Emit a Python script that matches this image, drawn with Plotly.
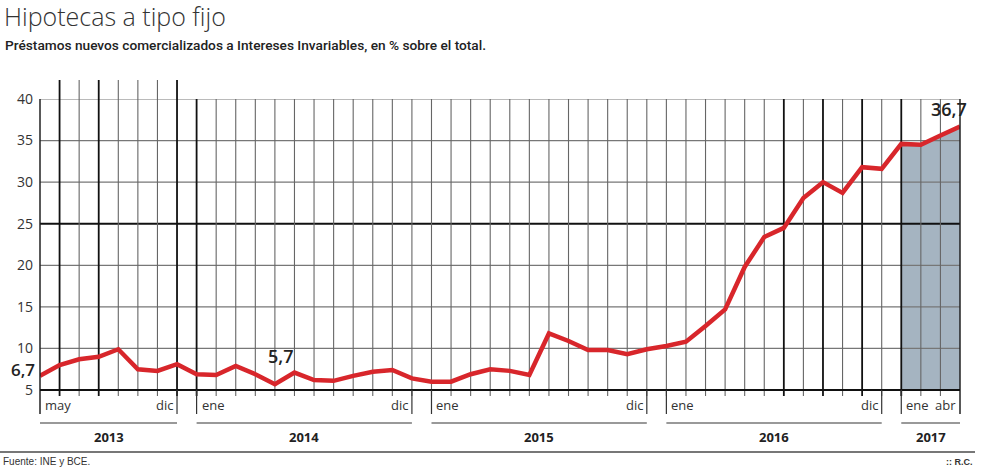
import plotly.graph_objects as go

# ---- data (monthly, May 2013 .. Apr 2017) ----
values = [6.7, 8.0, 8.7, 9.0, 9.9, 7.5, 7.3, 8.1,
          6.9, 6.8, 7.9, 6.9, 5.7, 7.1, 6.2, 6.1, 6.7, 7.2, 7.4, 6.4,
          6.0, 6.0, 6.9, 7.5, 7.3, 6.8, 11.8, 10.9, 9.8, 9.8, 9.3, 9.9,
          10.3, 10.8, 12.7, 14.7, 19.8, 23.4, 24.5, 28.1, 30.0, 28.7, 31.8, 31.6,
          34.6, 34.5, 35.6, 36.7]
x_idx = list(range(len(values)))

month_labels = ["may", "dic", "ene", "dic", "ene", "dic", "ene", "dic", "ene", "abr"]
month_label_pos = [0, 7, 8, 19, 20, 31, 32, 43, 44, 47]
month_label_side = ["left", "right", "left", "right", "left", "right", "left", "right", "left", "right"]

years = ["2013", "2014", "2015", "2016", "2017"]
year_start = [0, 8, 20, 32, 44]
year_end = [7, 19, 31, 43, 47]

y_ticks = [5, 10, 15, 20, 25, 30, 35, 40]
highlighted = [(0, "6,7"), (12, "5,7"), (47, "36,7")]
shade_start = 44  # 2017

RED = "#d8262b"
FONT = "Open Sans"
W, H = 984, 468
L, R, T, B = 40, 24, 99, 78
PH = H - T - B
N = len(values)
YMIN, YMAX = y_ticks[0], y_ticks[-1]


def py(p):
    return (H - B - p) / PH


def px(p):
    return (p - L) / (W - L - R)


fig = go.Figure()

shapes = []
# gray shaded area under the 2017 part of the line (drawn below the grid)
path = f"M {shade_start},{YMIN} " + " ".join(
    f"L {i},{values[i]}" for i in range(shade_start, N)) + f" L {N-1},{YMIN} Z"
shapes.append(dict(type="path", path=path, xref="x", yref="y", layer="below",
                   fillcolor="#a5b4c1", line=dict(width=0)))

# horizontal gridlines (inside plot, above the fill)
for v in y_ticks:
    if v == YMIN:
        continue
    dark = v == 25
    shapes.append(dict(type="line", xref="x", yref="y", x0=0, x1=N - 1, y0=v, y1=v,
                       layer="between",
                       line=dict(color="#111" if dark else "#777", width=2 if dark else 1.2)))

# vertical gridlines (one per month)
dark_months = {1, 3, 7, 8, 38, 40, 42, 44}
for i in x_idx:
    dark = i in dark_months
    col = "#111" if dark else "#666"
    wd = 1.8 if dark else 1.1
    if 0 < i < N - 1:
        shapes.append(dict(type="line", xref="x", yref="y", x0=i, x1=i, y0=YMIN, y1=YMAX,
                           layer="between", line=dict(color=col, width=wd)))
        # tick below axis
        shapes.append(dict(type="line", xref="x", yref="paper", x0=i, x1=i, y0=py(396), y1=0,
                           line=dict(color=col, width=wd)))
        # 2013 lines extend above the top
        if i <= 7:
            shapes.append(dict(type="line", xref="x", yref="paper", x0=i, x1=i, y0=1, y1=py(80),
                               line=dict(color=col, width=wd)))

# left / right frame lines
shapes.append(dict(type="line", xref="paper", yref="paper", x0=0, x1=0, y0=py(414), y1=1,
                   line=dict(color="#222", width=1.5)))
shapes.append(dict(type="line", xref="paper", yref="paper", x0=1, x1=1, y0=py(414), y1=1,
                   layer="above", line=dict(color="#222", width=1.5)))
# bottom axis line
shapes.append(dict(type="line", xref="paper", yref="paper", x0=0, x1=1, y0=0, y1=0,
                   layer="above", line=dict(color="#111", width=2)))

# year separators below axis
for s, e in zip(year_start, year_end):
    for i in (s, e):
        if i in (0, N - 1):
            continue
        shapes.append(dict(type="line", xref="x", yref="paper", x0=i, x1=i, y0=py(414), y1=0,
                           line=dict(color="#333", width=1.2)))
    # year brackets
    shapes.append(dict(type="line", xref="x", yref="paper", x0=s, x1=e, y0=py(423), y1=py(423),
                       line=dict(color="#777", width=1.5)))

# footer line
shapes.append(dict(type="line", xref="paper", yref="paper", x0=px(0), x1=px(975),
                   y0=py(452), y1=py(452), line=dict(color="#777", width=2)))

# main line
fig.add_trace(go.Scatter(x=x_idx, y=values, mode="lines",
                         line=dict(color=RED, width=4.5, shape="linear"),
                         hoverinfo="skip", showlegend=False))

annotations = []
# month labels
for lab, pos, side in zip(month_labels, month_label_pos, month_label_side):
    annotations.append(dict(x=pos, y=py(405), xref="x", yref="paper", text=lab,
                            showarrow=False, xanchor=side, yanchor="middle",
                            xshift=3 if side == "left" else -2,
                            font=dict(family=FONT, size=13, color="#333")))
# year labels
for yl, s, e in zip(years, year_start, year_end):
    annotations.append(dict(x=(s + e) / 2, y=py(437), xref="x", yref="paper", text=yl,
                            showarrow=False, xanchor="center", yanchor="middle",
                            font=dict(family=FONT, size=13, color="#222", weight=700)))

# value labels
shifts = {0: (-3, 6, "right", 17), 12: (6, 28, "center", 18), 47: (-11, 17, "center", 18)}
for i, txt in highlighted:
    dx, dy, anc, sz = shifts[i]
    annotations.append(dict(x=i, y=values[i], xref="x", yref="y", text=txt, showarrow=False,
                            xanchor=anc, yanchor="middle", xshift=dx, yshift=dy,
                            font=dict(family=FONT, size=sz, color="#222", weight=600)))

# title, subtitle, footer
annotations.append(dict(x=px(2), y=py(16), xref="paper", yref="paper",
                        text="Hipotecas a tipo fijo", showarrow=False,
                        xanchor="left", yanchor="middle",
                        font=dict(family=FONT, size=25, color="#333", weight=300)))
annotations.append(dict(x=px(3), y=py(45), xref="paper", yref="paper",
                        text="Préstamos nuevos comercializados a Intereses Invariables, en % sobre el total.",
                        showarrow=False, xanchor="left", yanchor="middle",
                        font=dict(family="Roboto", size=13.7, color="#222", weight=500)))
annotations.append(dict(x=px(1), y=py(461), xref="paper", yref="paper",
                        text="Fuente: INE y BCE.", showarrow=False,
                        xanchor="left", yanchor="middle",
                        font=dict(family="Liberation Sans", size=10, color="#333")))
annotations.append(dict(x=px(975), y=py(462), xref="paper", yref="paper",
                        text=":: R.C.", showarrow=False,
                        xanchor="right", yanchor="middle",
                        font=dict(family="Liberation Sans", size=9, color="#333", weight=700)))

fig.update_layout(
    width=W, height=H,
    margin=dict(l=L, r=R, t=T, b=B, pad=0),
    paper_bgcolor="white", plot_bgcolor="white",
    shapes=shapes, annotations=annotations,
    showlegend=False,
    xaxis=dict(range=[0, N - 1], showgrid=False, zeroline=False,
               showticklabels=False, showline=False, ticks="", fixedrange=True),
    yaxis=dict(range=[YMIN, YMAX], tickvals=y_ticks, showgrid=False, zeroline=False,
               showline=False, ticks="", ticklabelstandoff=6,
               tickfont=dict(family=FONT, size=14, color="#333"), fixedrange=True),
)

fig.write_html("out.html")
